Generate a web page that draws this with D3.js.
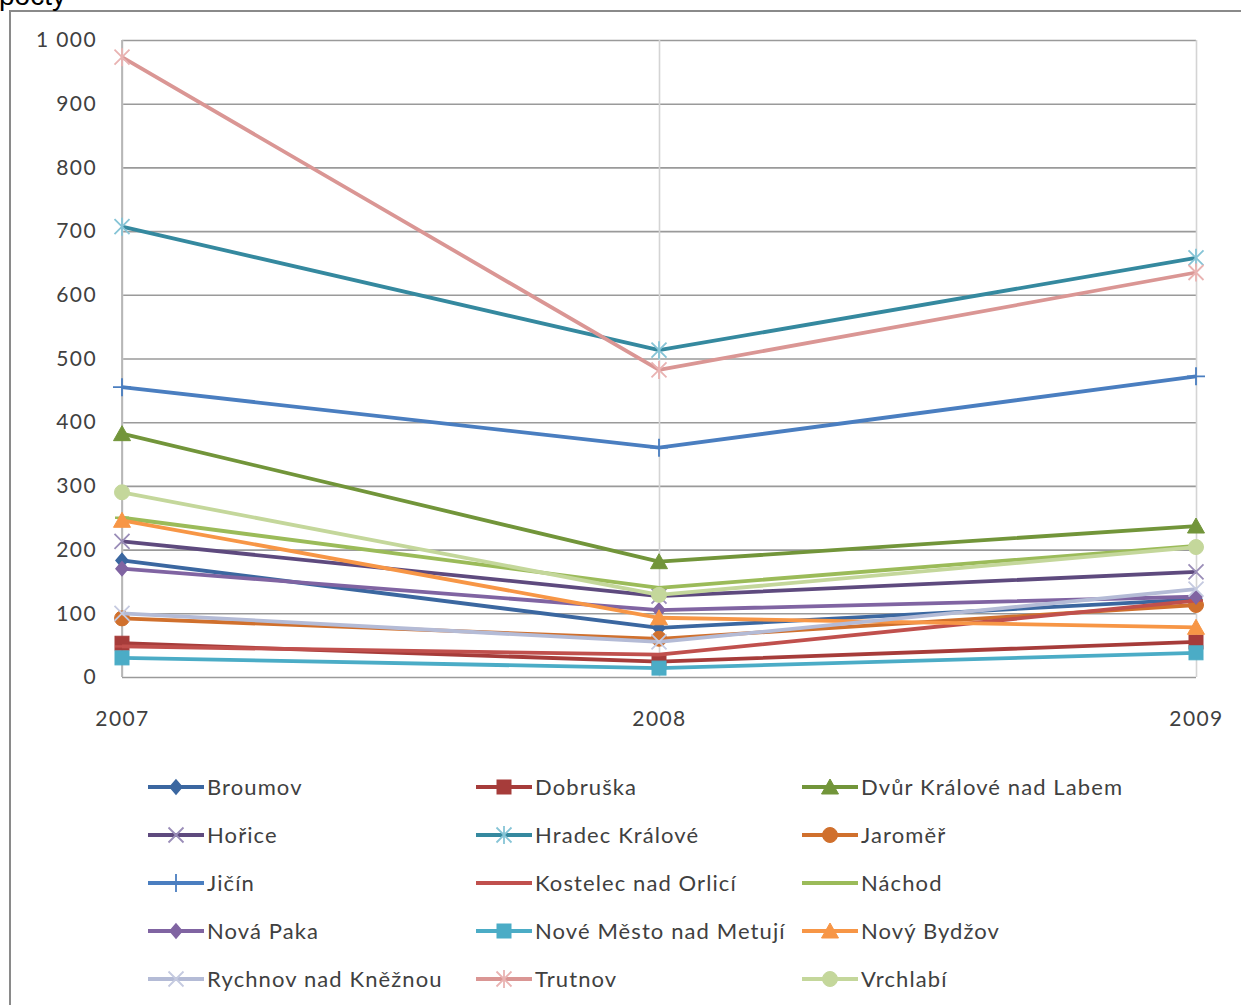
<!DOCTYPE html>
<html>
<head>
<meta charset="utf-8">
<script src="https://cdn.jsdelivr.net/npm/d3@7"></script>
<style>
  html, body { margin: 0; padding: 0; background: #ffffff; }
  svg { display: block; }
  text { font-family: Lato, "Open Sans", sans-serif; fill: #404040; }
</style>
</head>
<body>
<svg id="chart" width="1241" height="1005"></svg>
<script>
// Years on the category axis
const years = ["2007", "2008", "2009"];

// Municipalities (legend order)
const towns = [
  "Broumov", "Dobruška", "Dvůr Králové nad Labem",
  "Hořice", "Hradec Králové", "Jaroměř",
  "Jičín", "Kostelec nad Orlicí", "Náchod",
  "Nová Paka", "Nové Město nad Metují", "Nový Bydžov",
  "Rychnov nad Kněžnou", "Trutnov", "Vrchlabí"
];

// Counts per town for 2007, 2008, 2009
const broumov      = [183, 77, 122];
const dobruska     = [53, 24, 55];
const dvurKralove  = [382, 181, 237];
const horice       = [213, 127, 165];
const hradecKralove= [707, 513, 658];
const jaromer      = [92, 60, 113];
const jicin        = [455, 360, 472];
const kostelec     = [48, 35, 120];
const nachod       = [250, 140, 206];
const novaPaka     = [170, 105, 126];
const noveMesto    = [30, 14, 38];
const novyBydzov   = [246, 93, 78];
const rychnov      = [100, 55, 138];
const trutnov      = [973, 482, 635];
const vrchlabi     = [290, 129, 204];

const seriesValues = [
  broumov, dobruska, dvurKralove, horice, hradecKralove, jaromer,
  jicin, kostelec, nachod, novaPaka, noveMesto, novyBydzov,
  rychnov, trutnov, vrchlabi
];

// Y axis ticks
const yTicks = [0, 100, 200, 300, 400, 500, 600, 700, 800, 900, 1000];

// Line colour, marker shape and marker colour per series
const lineColors = [
  "#3B67A0", "#A63C3A", "#72953A", "#5E4A7E", "#35899F", "#D0702D",
  "#4A7EC0", "#C0504D", "#9BBB59", "#8064A2", "#4BACC6", "#F79646",
  "#B4BBD6", "#DA9694", "#C4D79B"
];
const markerShapes = [
  "diamond", "square", "triangle", "x", "star", "circle",
  "plus", "dash", "dash", "diamond", "square", "triangle",
  "x", "star", "circle"
];
const markerColors = [
  "#3B67A0", "#A63C3A", "#72953A", "#9A8DB8", "#86C4D6", "#D0702D",
  "#4A7EC0", "#C0504D", "#9BBB59", "#8064A2", "#4BACC6", "#F79646",
  "#C5CAE0", "#E9B3B2", "#C4D79B"
];

const svg = d3.select("#chart");

// Outer chart frame (partly outside the viewport)
svg.append("rect")
  .attr("x", 10).attr("y", 11)
  .attr("width", 1300).attr("height", 1100)
  .attr("fill", "#ffffff")
  .attr("stroke", "#8a8a8a").attr("stroke-width", 2);

// Axis title, mostly clipped by the top edge
svg.append("text")
  .attr("x", -1).attr("y", 5)
  .style("font-family", "Arial, 'Liberation Sans', sans-serif")
  .style("font-size", "28px")
  .style("fill", "#000")
  .text("počty");

const x = d3.scalePoint().domain(years).range([122, 1196]);
const y = d3.scaleLinear().domain([0, 1000]).range([677, 40]);

const fmt = d3.formatLocale({ decimal: ",", thousands: " ", grouping: [3], currency: ["", ""] }).format(",d");

// Horizontal gridlines + y labels
const yAxis = d3.axisLeft(y)
  .tickValues(yTicks)
  .tickSize(-(1196 - 122))
  .tickPadding(25)
  .tickFormat(fmt);

const gy = svg.append("g").attr("transform", "translate(122,0)").call(yAxis);
gy.select(".domain").remove();
gy.selectAll(".tick line").attr("stroke", "#9a9a9a").attr("stroke-width", 1.6);
gy.selectAll(".tick text")
  .style("font-size", "21px")
  .style("letter-spacing", "1.4px")
  .style("fill", "#404040")
  .style("font-family", "Lato, sans-serif");

// Vertical gridlines + x labels
const xAxis = d3.axisBottom(x).tickSize(-(677 - 40)).tickPadding(34);
const gx = svg.append("g").attr("transform", "translate(0,677)").call(xAxis);
gx.select(".domain").remove();
gx.selectAll(".tick line").attr("stroke", "#d4d4d4").attr("stroke-width", 1.6);
gx.selectAll(".tick text")
  .style("font-size", "21px")
  .style("letter-spacing", "1.4px")
  .style("fill", "#404040")
  .style("font-family", "Lato, sans-serif");

// Left axis line
svg.append("line")
  .attr("x1", x(years[0])).attr("x2", x(years[0]))
  .attr("y1", y(1000)).attr("y2", y(0))
  .attr("stroke", "#b0b0b0").attr("stroke-width", 1.6);

function drawMarker(g, shape, cx, cy, color) {
  const s = 7.5;
  switch (shape) {
    case "diamond":
      g.append("path")
        .attr("d", `M${cx},${cy - 7}L${cx + 6},${cy}L${cx},${cy + 7}L${cx - 6},${cy}Z`)
        .attr("fill", color).attr("stroke", color).attr("stroke-width", 1.5);
      break;
    case "square":
      g.append("rect")
        .attr("x", cx - 7).attr("y", cy - 7).attr("width", 14).attr("height", 14)
        .attr("fill", color).attr("stroke", color);
      break;
    case "triangle":
      g.append("path")
        .attr("d", `M${cx},${cy - 8}L${cx + 8.5},${cy + 7}L${cx - 8.5},${cy + 7}Z`)
        .attr("fill", color).attr("stroke", color);
      break;
    case "circle":
      g.append("circle")
        .attr("cx", cx).attr("cy", cy).attr("r", 7.5)
        .attr("fill", color).attr("stroke", color);
      break;
    case "x":
      g.append("path")
        .attr("d", `M${cx - s},${cy - s}L${cx + s},${cy + s}M${cx - s},${cy + s}L${cx + s},${cy - s}`)
        .attr("stroke", color).attr("stroke-width", 1.8).attr("fill", "none");
      break;
    case "star":
      g.append("path")
        .attr("d", `M${cx - s},${cy - s}L${cx + s},${cy + s}M${cx - s},${cy + s}L${cx + s},${cy - s}M${cx},${cy - 9}L${cx},${cy + 9}`)
        .attr("stroke", color).attr("stroke-width", 1.8).attr("fill", "none");
      break;
    case "plus":
      g.append("path")
        .attr("d", `M${cx - 9},${cy}L${cx + 9},${cy}M${cx},${cy - 9}L${cx},${cy + 9}`)
        .attr("stroke", color).attr("stroke-width", 1.8).attr("fill", "none");
      break;
    case "dash":
      g.append("path")
        .attr("d", `M${cx - 7},${cy}L${cx + 7},${cy}`)
        .attr("stroke", color).attr("stroke-width", 2.5).attr("fill", "none");
      break;
  }
}

// Series lines with markers
const line = d3.line().x((d, i) => x(years[i])).y(d => y(d));
const plot = svg.append("g");
seriesValues.forEach((vals, k) => {
  const g = plot.append("g");
  g.append("path")
    .attr("d", line(vals))
    .attr("fill", "none")
    .attr("stroke", lineColors[k])
    .attr("stroke-width", 3.8)
    .attr("stroke-linejoin", "round");
  vals.forEach((v, i) => drawMarker(g, markerShapes[k], x(years[i]), y(v), markerColors[k]));
});

// Legend: 3 columns x 5 rows
const legendCols = [148, 476, 802];
const legendRows = [787, 835, 883, 931, 979];
const legend = svg.append("g");
towns.forEach((name, k) => {
  const lx = legendCols[k % 3];
  const ly = legendRows[Math.floor(k / 3)];
  const g = legend.append("g");
  g.append("line")
    .attr("x1", lx).attr("x2", lx + 56)
    .attr("y1", ly).attr("y2", ly)
    .attr("stroke", lineColors[k]).attr("stroke-width", 3.8);
  drawMarker(g, markerShapes[k], lx + 28, ly, markerColors[k]);
  g.append("text")
    .attr("x", lx + 59).attr("y", ly)
    .attr("dy", "0.35em")
    .style("font-size", "22px")
    .style("letter-spacing", "1.1px")
    .style("fill", "#404040")
    .text(name);
});
</script>
</body>
</html>
